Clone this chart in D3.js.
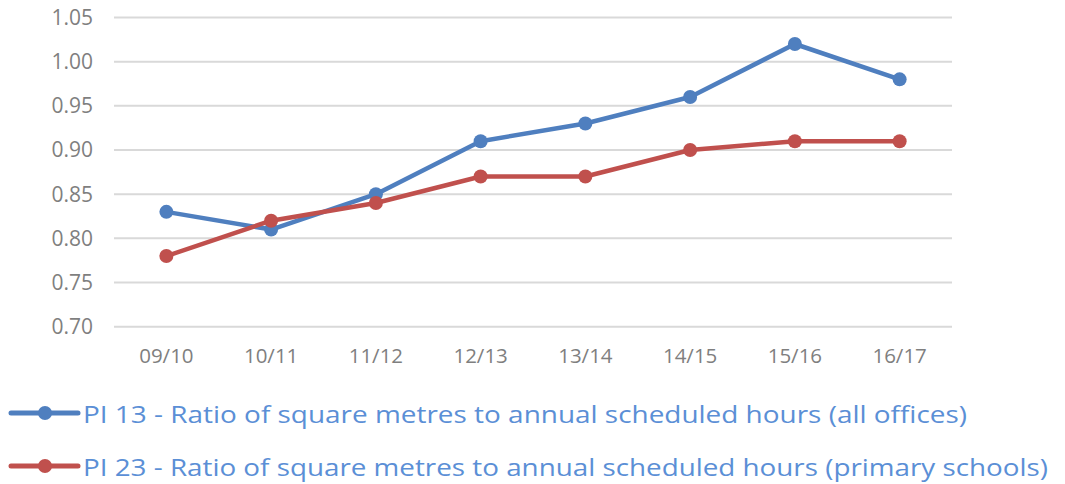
<!DOCTYPE html>
<html>
<head>
<meta charset="utf-8">
<script src="https://d3js.org/d3.v7.min.js"></script>
<style>
  body { margin: 0; background: #fff; }
  svg { display: block; font-family: "Open Sans", sans-serif; }
</style>
</head>
<body>
<svg id="chart" width="1065" height="484"></svg>
<script>
let years = ["09/10", "10/11", "11/12", "12/13", "13/14", "14/15", "15/16", "16/17"];
let pi13 = [0.83, 0.81, 0.85, 0.91, 0.93, 0.96, 1.02, 0.98];
let pi23 = [0.78, 0.82, 0.84, 0.87, 0.87, 0.90, 0.91, 0.91];
let yTicks = [0.70, 0.75, 0.80, 0.85, 0.90, 0.95, 1.00, 1.05];
let seriesNames = [
  "PI 13 - Ratio of square metres to annual scheduled hours (all offices)",
  "PI 23 - Ratio of square metres to annual scheduled hours (primary schools)"
];
let seriesColors = ["#4f7fbf", "#c0504d"];

let svg = d3.select("#chart");
let plotLeft = 114, plotRight = 952, plotTop = 17.5, plotBottom = 326.7;

let x = d3.scaleBand().domain(years).range([plotLeft, plotRight]);
let y = d3.scaleLinear().domain([0.70, 1.05]).range([plotBottom, plotTop]);

// grid lines
svg.append("g").selectAll("line")
  .data(yTicks).enter().append("line")
  .attr("x1", plotLeft).attr("x2", plotRight)
  .attr("y1", d => y(d)).attr("y2", d => y(d))
  .attr("stroke", "#d9d9d9").attr("stroke-width", 2);

// y labels
svg.append("g").selectAll("text")
  .data(yTicks).enter().append("text")
  .attr("x", 93).attr("y", d => y(d))
  .attr("dy", "0.35em")
  .attr("text-anchor", "end")
  .attr("font-size", 21)
  .attr("fill", "#7f7f7f")
  .text(d => d.toFixed(2));

// x labels
svg.append("g").selectAll("text")
  .data(years).enter().append("text")
  .attr("x", d => x(d) + x.bandwidth() / 2)
  .attr("y", 363)
  .attr("text-anchor", "middle")
  .attr("font-size", 20.5)
  .attr("fill", "#7f7f7f")
  .text(d => d);

let line = d3.line()
  .x((d, i) => x(years[i]) + x.bandwidth() / 2)
  .y(d => y(d));

[pi13, pi23].forEach(function(vals, k) {
  let g = svg.append("g");
  g.append("path")
    .datum(vals)
    .attr("d", line)
    .attr("fill", "none")
    .attr("stroke", seriesColors[k])
    .attr("stroke-width", 4.5)
    .attr("stroke-linejoin", "round");
  g.selectAll("circle")
    .data(vals).enter().append("circle")
    .attr("cx", (d, i) => x(years[i]) + x.bandwidth() / 2)
    .attr("cy", d => y(d))
    .attr("r", 7)
    .attr("fill", seriesColors[k]);
});

// legend
let legendY = [413, 466];
let legendEnd = [967, 1048];
seriesNames.forEach(function(name, k) {
  let g = svg.append("g");
  g.append("line")
    .attr("x1", 11).attr("x2", 78)
    .attr("y1", legendY[k]).attr("y2", legendY[k])
    .attr("stroke", seriesColors[k])
    .attr("stroke-width", 5)
    .attr("stroke-linecap", "round");
  g.append("circle")
    .attr("cx", 45).attr("cy", legendY[k])
    .attr("r", 7)
    .attr("fill", seriesColors[k]);
  g.append("text")
    .attr("x", 83).attr("y", legendY[k] + 10)
    .attr("font-size", 23)
    .attr("fill", "#5b8fd6")
    .attr("textLength", legendEnd[k] - 83)
    .attr("lengthAdjust", "spacingAndGlyphs")
    .text(name);
});
</script>
</body>
</html>
